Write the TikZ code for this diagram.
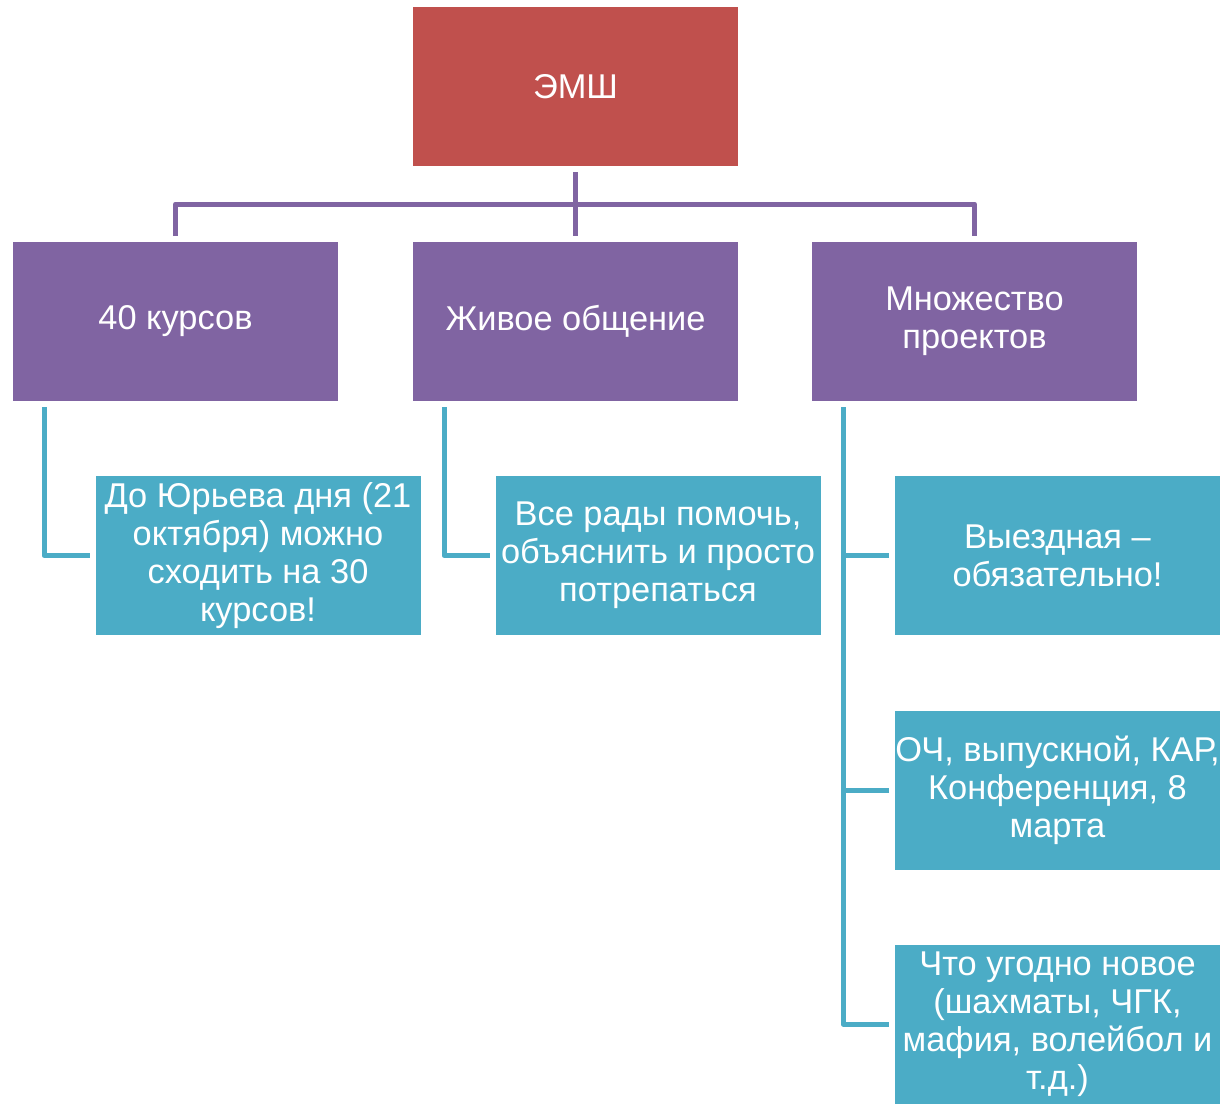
\documentclass[tikz,border=0pt]{standalone}
\usepackage{fontspec}
\setmainfont{Liberation Sans}
\definecolor{emshred}{HTML}{C0504D}
\definecolor{emshviolet}{HTML}{8064A2}
\definecolor{emshteal}{HTML}{4BACC6}
\tikzset{
  box/.style    = {shape=rectangle, align=center, text=white,
                   inner sep=0pt, outer sep=4.5pt,
                   minimum width=243.75pt, minimum height=119.25pt,
                   font=\fontsize{25.8}{28.5}\selectfont},
  root/.style   = {box, fill=emshred},
  topic/.style  = {box, fill=emshviolet},
  leaf/.style   = {box, fill=emshteal},
  branch/.style = {line width=3.75pt, line join=round}
}

\begin{document}
\begin{tikzpicture}
  [
    x = 0.75pt,
    y = -0.75pt
  ]
  \useasboundingbox (0,0) rectangle (1226,1103);

  \node [root]  (emsh)     at (575.5,86.5)  {ЭМШ};

  \node [topic] (courses)  at (175.5,321.5) {40 курсов};
  \node [topic] (talk)     at (575.5,321.5) {Живое общение};
  \node [topic] (projects) at (974.5,321.5) {Множество\\проектов};

  \node [leaf]  (yuriev)   at (258,555.5)   {До Юрьева дня (21\\октября) можно\\сходить на 30\\курсов!};
  \node [leaf]  (help)     at (658,555.5)   {Все рады помочь,\\объяснить и просто\\потрепаться};
  \node [leaf]  (trip)     at (1057.5,555.5){Выездная --\\обязательно!};
  \node [leaf]  (events)   at (1057.5,790)  {ОЧ, выпускной, КАР,\\Конференция, 8\\марта};
  \node [leaf]  (anything) at (1057.5,1024) {Что угодно новое\\(шахматы, ЧГК,\\мафия, волейбол и\\т.д.)};

  % level 1 -> level 2
  \draw [branch, emshviolet] (emsh.south) -- (talk.north);
  \draw [branch, emshviolet] (courses.north) -- ++(0,-32) -| (projects.north);

  % level 2 -> level 3
  \draw [branch, emshteal] ([xshift=27.75pt]courses.south west) |- (yuriev.west);
  \draw [branch, emshteal] ([xshift=27.75pt]talk.south west) |- (help.west);
  \coordinate (trunk) at ([xshift=27.75pt]projects.south west);
  \draw [branch, emshteal] (trunk) |- (anything.west);
  \draw [branch, emshteal] (trip.west) -- (trip.west -| trunk);
  \draw [branch, emshteal] (events.west) -- (events.west -| trunk);
\end{tikzpicture}
\end{document}
